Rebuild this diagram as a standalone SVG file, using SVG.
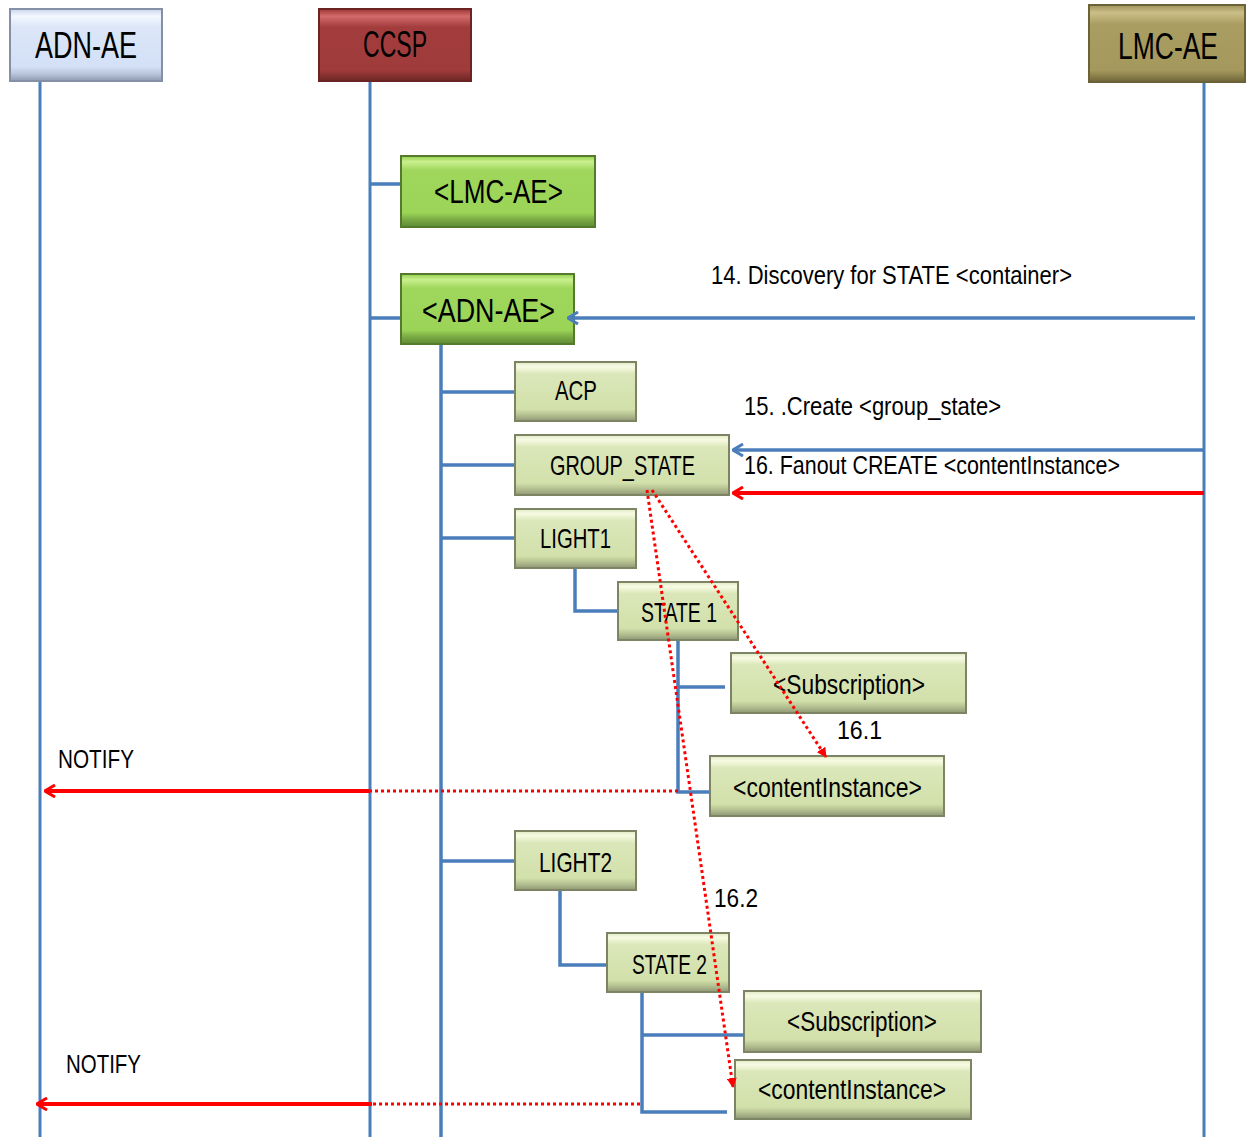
<svg xmlns="http://www.w3.org/2000/svg" width="1250" height="1137" viewBox="0 0 1250 1137">
<style>
text{font-family:"Liberation Sans Narrow","Liberation Sans",Arial,sans-serif;fill:#000;}
.hdr{font-size:36px;}
.big{font-size:33px;}
.lbl{font-size:28px;}
.msg{font-size:26px;}
.life{stroke:#4a7ebb;stroke-width:3;fill:none;}
.tree{stroke:#4a7ebb;stroke-width:3.5;fill:none;}
.blue{stroke:#4a7ebb;stroke-width:3.5;fill:none;}
.red{stroke:#ff0000;stroke-width:4;fill:none;}
.dot{stroke:#ff0000;stroke-width:3;stroke-dasharray:3 3;fill:none;}
.lg{fill:url(#gLight);stroke:#7d8463;stroke-width:2;}
.dg{fill:url(#gGreen);stroke:#557a2e;stroke-width:2;}
</style>
<defs>
<linearGradient id="gLight" x1="0" y1="0" x2="0" y2="1">
<stop offset="0" stop-color="#dfe9c4"/><stop offset="0.08" stop-color="#f8fbe4"/><stop offset="0.2" stop-color="#dbe7b9"/><stop offset="0.8" stop-color="#d2e0ab"/><stop offset="0.9" stop-color="#b4bf90"/><stop offset="1" stop-color="#8f9774"/>
</linearGradient>
<linearGradient id="gGreen" x1="0" y1="0" x2="0" y2="1">
<stop offset="0" stop-color="#8fcf4a"/><stop offset="0.08" stop-color="#caf08e"/><stop offset="0.2" stop-color="#9fd75c"/><stop offset="0.8" stop-color="#9bd457"/><stop offset="0.9" stop-color="#79a944"/><stop offset="1" stop-color="#5d8a34"/>
</linearGradient>
<linearGradient id="gBlue" x1="0" y1="0" x2="0" y2="1">
<stop offset="0" stop-color="#c9d5ea"/><stop offset="0.1" stop-color="#f4f8ff"/><stop offset="0.25" stop-color="#dce6f8"/><stop offset="0.8" stop-color="#d3e0f6"/><stop offset="0.9" stop-color="#b9c5da"/><stop offset="1" stop-color="#8d9ab0"/>
</linearGradient>
<linearGradient id="gRed" x1="0" y1="0" x2="0" y2="1">
<stop offset="0" stop-color="#9c3434"/><stop offset="0.1" stop-color="#d46a6a"/><stop offset="0.25" stop-color="#a33d3d"/><stop offset="0.85" stop-color="#a03b3b"/><stop offset="1" stop-color="#6d2626"/>
</linearGradient>
<linearGradient id="gOlive" x1="0" y1="0" x2="0" y2="1">
<stop offset="0" stop-color="#9e9358"/><stop offset="0.1" stop-color="#cbbf88"/><stop offset="0.25" stop-color="#a99d62"/><stop offset="0.85" stop-color="#a4985c"/><stop offset="1" stop-color="#6e6538"/>
</linearGradient>
<marker id="aBlue" viewBox="0 0 12 14" refX="11" refY="7" markerWidth="12" markerHeight="14" markerUnits="userSpaceOnUse" orient="auto">
<path d="M1,1 L11,7 L1,13" fill="none" stroke="#4a7ebb" stroke-width="3"/>
</marker>
<marker id="aRed" viewBox="0 0 12 14" refX="11" refY="7" markerWidth="12" markerHeight="14" markerUnits="userSpaceOnUse" orient="auto">
<path d="M1,1 L11,7 L1,13" fill="none" stroke="#ff0000" stroke-width="3"/>
</marker>
<marker id="aDot" viewBox="0 0 10 10" refX="9" refY="5" markerWidth="10" markerHeight="10" markerUnits="userSpaceOnUse" orient="auto">
<path d="M0,0 L10,5 L0,10 Z" fill="#ff0000"/>
</marker>
</defs>
<rect width="1250" height="1137" fill="#fff"/>

<g id="lifelines">
<line class="life" x1="40" y1="82" x2="40" y2="1137"/>
<line class="life" x1="370" y1="82" x2="370" y2="1137"/>
<line class="life" x1="1204" y1="83" x2="1204" y2="1137"/>
</g>

<g id="n-adn-ae">
<rect x="10" y="9" width="152" height="72" fill="url(#gBlue)" stroke="#8390a6" stroke-width="2"/>
<text class="hdr" x="35" y="58" textLength="102" lengthAdjust="spacingAndGlyphs">ADN-AE</text>
</g>
<g id="n-ccsp">
<rect x="319" y="9" width="152" height="72" fill="url(#gRed)" stroke="#6b2323" stroke-width="2"/>
<text class="hdr" x="363" y="57" textLength="64" lengthAdjust="spacingAndGlyphs">CCSP</text>
</g>
<g id="n-lmc-ae">
<rect x="1089" y="5" width="156" height="77" fill="url(#gOlive)" stroke="#6b6237" stroke-width="2"/>
<text class="hdr" x="1118" y="59" textLength="100" lengthAdjust="spacingAndGlyphs">LMC-AE</text>
</g>

<g id="n-lmc">
<rect class="dg" x="401" y="156" width="194" height="71"/>
<text class="big" x="434" y="203" textLength="129" lengthAdjust="spacingAndGlyphs">&lt;LMC-AE&gt;</text>
</g>
<g id="n-adn">
<rect class="dg" x="401" y="274" width="173" height="70"/>
<text class="big" x="422" y="322" textLength="133" lengthAdjust="spacingAndGlyphs">&lt;ADN-AE&gt;</text>
</g>
<g id="n-acp">
<rect class="lg" x="515" y="362" width="121" height="59"/>
<text class="lbl" x="555" y="400" textLength="42" lengthAdjust="spacingAndGlyphs">ACP</text>
</g>
<g id="n-group">
<rect class="lg" x="515" y="435" width="214" height="60"/>
<text class="lbl" x="550" y="475" textLength="145" lengthAdjust="spacingAndGlyphs">GROUP_STATE</text>
</g>
<g id="n-light1">
<rect class="lg" x="515" y="509" width="121" height="59"/>
<text class="lbl" x="540" y="548" textLength="71" lengthAdjust="spacingAndGlyphs">LIGHT1</text>
</g>
<g id="n-state1">
<rect class="lg" x="618" y="582" width="120" height="58"/>
<text class="lbl" x="641" y="622" textLength="76" lengthAdjust="spacingAndGlyphs">STATE 1</text>
</g>
<g id="n-sub1">
<rect class="lg" x="731" y="653" width="235" height="60"/>
<text class="lbl" x="773" y="694" textLength="152" lengthAdjust="spacingAndGlyphs">&lt;Subscription&gt;</text>
</g>
<g id="n-ci1">
<rect class="lg" x="710" y="756" width="234" height="60"/>
<text class="lbl" x="733" y="797" textLength="189" lengthAdjust="spacingAndGlyphs">&lt;contentInstance&gt;</text>
</g>
<g id="n-light2">
<rect class="lg" x="515" y="831" width="121" height="59"/>
<text class="lbl" x="539" y="872" textLength="73" lengthAdjust="spacingAndGlyphs">LIGHT2</text>
</g>
<g id="n-state2">
<rect class="lg" x="607" y="933" width="122" height="59"/>
<text class="lbl" x="632" y="974" textLength="75" lengthAdjust="spacingAndGlyphs">STATE 2</text>
</g>
<g id="n-sub2">
<rect class="lg" x="744" y="991" width="237" height="61"/>
<text class="lbl" x="787" y="1031" textLength="150" lengthAdjust="spacingAndGlyphs">&lt;Subscription&gt;</text>
</g>
<g id="n-ci2">
<rect class="lg" x="735" y="1060" width="236" height="59"/>
<text class="lbl" x="758" y="1099" textLength="188" lengthAdjust="spacingAndGlyphs">&lt;contentInstance&gt;</text>
</g>

<g id="connectors">
<line class="tree" x1="441" y1="345" x2="441" y2="1137"/>
<path class="tree" d="M370,184 H400 M370,318 H400 M441,392 H514 M441,465 H514 M441,538 H514 M441,861 H514"/>
<path class="tree" d="M575,569 V611 H617"/>
<path class="tree" d="M678,641 V792 H709 M678,687 H725"/>
<path class="tree" d="M560,891 V965 H606"/>
<path class="tree" d="M642,993 V1112 H727 M642,1035 H744"/>
<path class="blue" d="M1195,318 H568" marker-end="url(#aBlue)"/>
<path class="blue" d="M1204,450 H733" marker-end="url(#aBlue)"/>
<path class="red" d="M1204,493 H733" marker-end="url(#aRed)"/>
<path class="dot" d="M678,791 H370"/>
<path class="red" d="M370,791 H45" marker-end="url(#aRed)"/>
<path class="dot" d="M640,1104 H372"/>
<path class="red" d="M372,1104 H37" marker-end="url(#aRed)"/>
<path class="dot" d="M652,490 L826,757" marker-end="url(#aDot)"/>
<path class="dot" d="M647,490 L733,1087" marker-end="url(#aDot)"/>
</g>

<g id="labels">
<text class="msg" x="711" y="284" textLength="361" lengthAdjust="spacingAndGlyphs">14. Discovery for STATE  &lt;container&gt;</text>
<text class="msg" x="744" y="415" textLength="257" lengthAdjust="spacingAndGlyphs">15. .Create &lt;group_state&gt;</text>
<text class="msg" x="744" y="474" textLength="376" lengthAdjust="spacingAndGlyphs">16. Fanout CREATE &lt;contentInstance&gt;</text>
<text class="msg" x="837" y="739" textLength="45" lengthAdjust="spacingAndGlyphs">16.1</text>
<text class="msg" x="714" y="907" textLength="44" lengthAdjust="spacingAndGlyphs">16.2</text>
<text class="msg" x="58" y="768" textLength="76" lengthAdjust="spacingAndGlyphs">NOTIFY</text>
<text class="msg" x="66" y="1073" textLength="75" lengthAdjust="spacingAndGlyphs">NOTIFY</text>
</g>
</svg>
